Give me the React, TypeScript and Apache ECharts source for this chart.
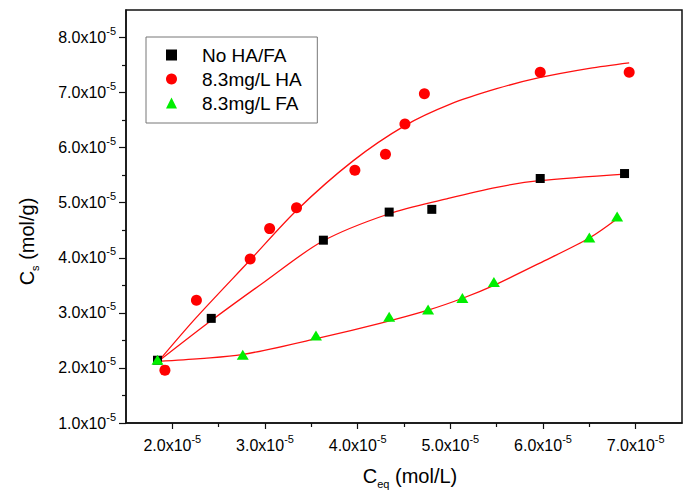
import React, { useEffect, useRef } from "react";
import * as echarts from "echarts";

// values in units of 1e-5
const noHaX = [1.84, 2.42, 3.63, 4.34, 4.8, 5.97, 6.88];
const noHaY = [2.14, 2.9, 4.32, 4.83, 4.88, 5.44, 5.53];
const haX = [1.92, 2.26, 2.84, 3.05, 3.34, 3.97, 4.3, 4.51, 4.72, 5.97, 6.93];
const haY = [1.96, 3.23, 3.98, 4.53, 4.91, 5.59, 5.88, 6.43, 6.98, 7.37, 7.37];
const faX = [1.84, 2.76, 3.55, 4.34, 4.76, 5.13, 5.47, 6.5, 6.8];
const faY = [2.15, 2.24, 2.59, 2.93, 3.06, 3.27, 3.56, 4.37, 4.75];

// fitted curves
const noHaFitX = [1.85, 2.42, 3.0, 3.62, 4.34, 4.96, 5.5, 5.96, 6.88];
const noHaFitY = [2.12, 2.86, 3.57, 4.3, 4.8, 5.07, 5.28, 5.4, 5.52];
const haFitX = [1.85, 2.25, 2.84, 3.34, 3.95, 4.51, 5.0, 5.5, 5.96, 6.5, 6.93];
const haFitY = [2.12, 2.9, 3.96, 4.86, 5.76, 6.4, 6.79, 7.07, 7.27, 7.44, 7.54];
const faFitX = [1.85, 2.3, 2.75, 3.6, 4.24, 4.76, 5.14, 5.47, 5.96, 6.5, 6.8];
const faFitY = [2.12, 2.17, 2.24, 2.55, 2.81, 3.05, 3.27, 3.5, 3.9, 4.36, 4.71];

const xMajor = [2, 3, 4, 5, 6, 7];
const xMinor = [2.5, 3.5, 4.5, 5.5, 6.5];
const yMajor = [1, 2, 3, 4, 5, 6, 7, 8];
const yMinor = [1.5, 2.5, 3.5, 4.5, 5.5, 6.5, 7.5];

const seriesNames = ["No HA/FA", "8.3mg/L HA", "8.3mg/L FA"];

const FONT = "Liberation Sans, Arial, sans-serif";

const zip = (xs: number[], ys: number[]) => xs.map((x, i) => [x, ys[i]]);

const tickRich = {
  b: { fontSize: 16, lineHeight: 24, fontFamily: FONT, color: "#000" },
  s: { fontSize: 11, lineHeight: 11, verticalAlign: "top", fontFamily: FONT, color: "#000" },
};
const nameRich = {
  c: { fontSize: 20, lineHeight: 26, fontFamily: FONT, color: "#000" },
  u: { fontSize: 11, lineHeight: 11, verticalAlign: "bottom", fontFamily: FONT, color: "#000" },
};
const fmt = (v: number) => `{b|${v.toFixed(1)}x10}{s|-5}`;

const fitLine = (xs: number[], ys: number[], name: string) => ({
  name,
  type: "line",
  data: zip(xs, ys),
  smooth: 0.3,
  showSymbol: false,
  symbol: "none",
  lineStyle: { color: "#ff1010", width: 1.3 },
  z: 2,
});

export default function App() {
  const ref = useRef<HTMLDivElement>(null);
  useEffect(() => {
    if (!ref.current) return;
    const chart = echarts.init(ref.current, null, { renderer: "svg" });
    const axisCommon = { lineStyle: { color: "#111", width: 1.5 } };
    const option: any = {
      animation: false,
      backgroundColor: "#fff",
      grid: {
        left: 126,
        right: 10,
        top: 10,
        bottom: 69,
        show: true,
        borderColor: "#111",
        borderWidth: 1.5,
      },
      legend: {
        orient: "vertical",
        left: 146,
        top: 37,
        data: seriesNames,
        itemWidth: 11,
        itemHeight: 11,
        itemGap: 4,
        padding: [8, 15, 10, 20],
        borderColor: "#777",
        borderWidth: 1,
        textStyle: {
          fontSize: 19,
          lineHeight: 20,
          fontFamily: FONT,
          color: "#000",
          padding: [0, 0, 0, 20],
        },
      },
      xAxis: [
        {
          type: "value",
          min: 1.5,
          max: 7.5,
          axisLine: { show: true, ...axisCommon },
          axisTick: { show: true, inside: false, length: 6, customValues: xMajor, lineStyle: { color: "#111", width: 1.2 } },
          axisLabel: { customValues: xMajor, margin: 10, formatter: fmt, rich: tickRich },
          splitLine: { show: false },
          name: "{c|C}{u|eq}{c| (mol/L)}",
          nameLocation: "middle",
          nameGap: 40,
          nameTextStyle: { rich: nameRich, padding: [0, 0, 0, 12] },
        },
        {
          type: "value",
          min: 1.5,
          max: 7.5,
          position: "bottom",
          axisLine: { show: false },
          axisTick: { show: true, inside: false, length: 4, customValues: xMinor, lineStyle: { color: "#111", width: 1.2 } },
          axisLabel: { show: false, customValues: xMinor },
          splitLine: { show: false },
        },
      ],
      yAxis: [
        {
          type: "value",
          min: 1,
          max: 8.5,
          axisLine: { show: true, ...axisCommon },
          axisTick: { show: true, inside: false, length: 7, customValues: yMajor, lineStyle: { color: "#111", width: 1.2 } },
          axisLabel: { customValues: yMajor, margin: 10, formatter: fmt, rich: tickRich },
          splitLine: { show: false },
          name: "{c|C}{u|s}{c| (mol/g)}",
          nameLocation: "middle",
          nameRotate: 90,
          nameGap: 86,
          nameTextStyle: { rich: nameRich, padding: [0, 50, 0, 0] },
        },
        {
          type: "value",
          min: 1,
          max: 8.5,
          position: "left",
          axisLine: { show: false },
          axisTick: { show: true, inside: false, length: 4, customValues: yMinor, lineStyle: { color: "#111", width: 1.2 } },
          axisLabel: { show: false, customValues: yMinor },
          splitLine: { show: false },
        },
      ],
      series: [
        fitLine(noHaFitX, noHaFitY, "fit0"),
        fitLine(haFitX, haFitY, "fit1"),
        fitLine(faFitX, faFitY, "fit2"),
        {
          name: seriesNames[0],
          type: "scatter",
          data: zip(noHaX, noHaY),
          symbol: "rect",
          symbolSize: 9,
          itemStyle: { color: "#000", opacity: 1 },
          z: 3,
        },
        {
          name: seriesNames[1],
          type: "scatter",
          data: zip(haX, haY),
          symbol: "circle",
          symbolSize: 11,
          itemStyle: { color: "#ff0000", opacity: 1 },
          z: 3,
        },
        {
          name: seriesNames[2],
          type: "scatter",
          data: zip(faX, faY),
          symbol: "triangle",
          symbolSize: [12, 10],
          itemStyle: { color: "#00ee00", opacity: 1 },
          z: 3,
        },
      ],
    };
    chart.setOption(option);
    return () => chart.dispose();
  }, []);
  return (
    <div
      ref={ref}
      style={{ position: "fixed", left: 0, top: 0, width: 692, height: 494, background: "#fff" }}
    />
  );
}
